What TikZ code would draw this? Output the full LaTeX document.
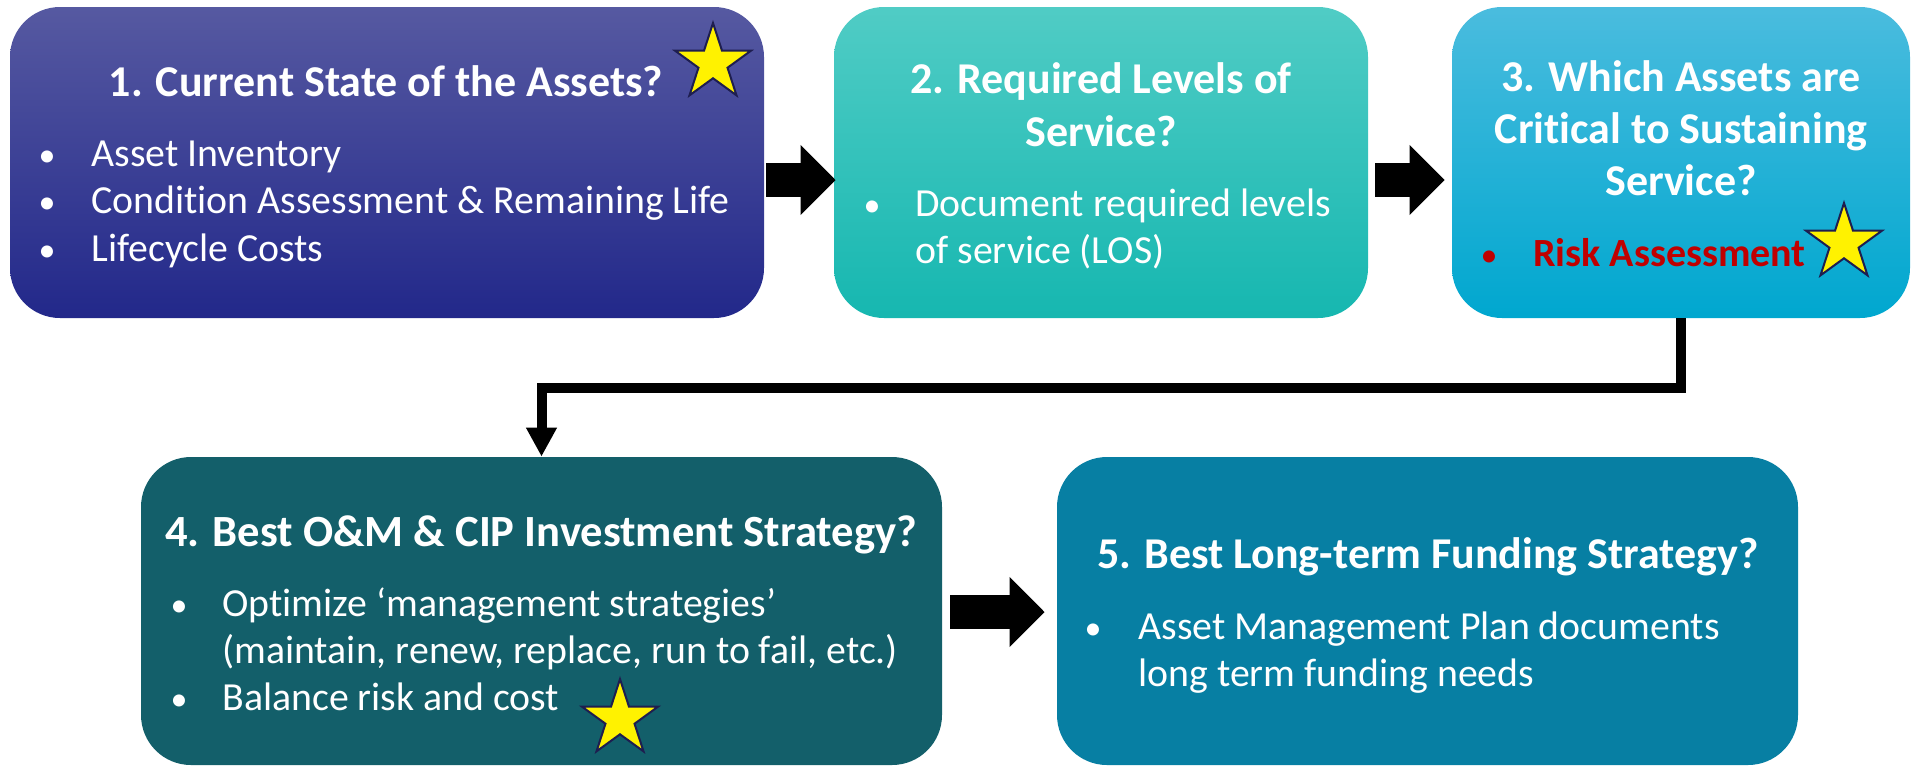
\documentclass[tikz,border=0pt]{standalone}
\usepackage{fontspec}
\setmainfont{Carlito}[Ligatures=NoCommon]
\usetikzlibrary{arrows.meta,calc,shapes.geometric}

\definecolor{oneTop}{RGB}{86,89,161}
\definecolor{oneMid}{RGB}{48,54,148}
\definecolor{oneBot}{RGB}{34,40,138}
\definecolor{twoTop}{RGB}{80,204,197}
\definecolor{twoMid}{RGB}{36,198,191}
\definecolor{twoBot}{RGB}{22,183,176}
\definecolor{threeTop}{RGB}{74,188,222}
\definecolor{threeMid}{RGB}{0,179,223}
\definecolor{threeBot}{RGB}{0,167,207}
\definecolor{fourFill}{RGB}{19,95,106}
\definecolor{fiveFill}{RGB}{7,127,163}
\definecolor{riskRed}{RGB}{192,0,0}
\definecolor{starLine}{RGB}{30,30,80}

\begin{document}
\begin{tikzpicture}[x=0.5pt,y=-0.5pt,
  stagebox/.style={rounded corners=25pt, inner sep=0pt, draw=none},
  headtext/.style={text=white, font=\fontsize{22}{26}\selectfont\bfseries, anchor=base, inner sep=0pt},
  bodytext/.style={text=white, font=\fontsize{19.9}{23.5}\selectfont, anchor=base west, inner sep=0pt},
  bulletmark/.style={text=white, font=\fontsize{17}{20}\selectfont, anchor=base, inner sep=0pt},
  goldstar/.style={star, star points=5, star point ratio=2.618, minimum size=40pt, inner sep=0pt,
    fill=yellow, draw=starLine, line width=1pt},
  blockarrow/.style={line width=17pt, line cap=butt, -{Triangle[length=17.5pt,width=34pt]}},
  elbowarrow/.style={line width=5pt, line join=miter, -{Triangle[length=14.5pt,width=14.5pt]}}
]
\useasboundingbox (0,0) rectangle (1923,767);

% ---- stage boxes ----
\node[stagebox, minimum width=377pt, minimum height=155.5pt,
      top color=oneTop, middle color=oneMid, bottom color=oneBot] (b1) at (387,162.5) {};
\node[stagebox, minimum width=267pt, minimum height=155.5pt,
      top color=twoTop, middle color=twoMid, bottom color=twoBot] (b2) at (1101,162.5) {};
\node[stagebox, minimum width=229pt, minimum height=155.5pt,
      top color=threeTop, middle color=threeMid, bottom color=threeBot] (b3) at (1681,162.5) {};
\node[stagebox, minimum width=400.5pt, minimum height=154pt, fill=fourFill] (b4) at (541.5,611) {};
\node[stagebox, minimum width=370.5pt, minimum height=154pt, fill=fiveFill] (b5) at (1427.5,611) {};

% ---- box 1 ----
\node[headtext] (h1) at (386,96) {1. Current State of the Assets?};
\node[bulletmark] (d11) at (47,166) {•};
\node[bodytext] (t11) at (91,166) {Asset Inventory};
\node[bulletmark] (d12) at (47,213) {•};
\node[bodytext] (t12) at (91,213) {Condition Assessment \& Remaining Life};
\node[bulletmark] (d13) at (47,261) {•};
\node[bodytext] (t13) at (91,261) {Lifecycle Costs};
\node[goldstar] (s1) at (713,63) {};

% ---- box 2 ----
\node[headtext] (h2a) at (1101,93) {2. Required Levels of};
\node[headtext] (h2b) at (1101,146) {Service?};
\node[bulletmark] (d21) at (872,216) {•};
\node[bodytext] (t21) at (915,216) {Document required levels};
\node[bodytext] (t22) at (915,263) {of service (LOS)};

% ---- box 3 ----
\node[headtext] (h3a) at (1681,91) {3. Which Assets are};
\node[headtext] (h3b) at (1681,143) {Critical to Sustaining};
\node[headtext] (h3c) at (1681,195) {Service?};
\node[bulletmark, text=riskRed] (d31) at (1489,266) {•};
\node[bodytext, text=riskRed, font=\fontsize{20}{24}\selectfont\bfseries] (t31) at (1533,266) {Risk Assessment};
\node[goldstar] (s3) at (1844,243) {};

% ---- box 4 ----
\node[headtext, font=\fontsize{22.3}{26}\selectfont\bfseries] (h4) at (541,546) {4. Best O\&M \& CIP Investment Strategy?};
\node[bulletmark] (d41) at (179,616) {•};
\node[bodytext] (t41) at (222,616) {Optimize ‘management strategies’};
\node[bodytext] (t42) at (222,663) {(maintain, renew, replace, run to fail, etc.)};
\node[bulletmark] (d43) at (179,710) {•};
\node[bodytext] (t43) at (222,710) {Balance risk and cost};
\node[goldstar] (s4) at (620,719) {};

% ---- box 5 ----
\node[headtext] (h5) at (1428,568) {5. Best Long-term Funding Strategy?};
\node[bulletmark] (d51) at (1093,639) {•};
\node[bodytext] (t51) at (1138,639) {Asset Management Plan documents};
\node[bodytext] (t52) at (1138,686) {long term funding needs};

% ---- connectors ----
\draw[blockarrow] ($(b1.east)+(2,17.5)$) -- ($(b2.west)+(2,17.5)$);
\draw[blockarrow] ($(b2.east)+(7,17.5)$) -- ($(b3.west)+(-7,17.5)$);
\draw[blockarrow] ($(b4.east)+(8,1)$) -- ($(b5.west)+(-12,1)$);
\draw[elbowarrow] (b3.south) -- ++(0,70) -| (b4.north);

\end{tikzpicture}
\end{document}
